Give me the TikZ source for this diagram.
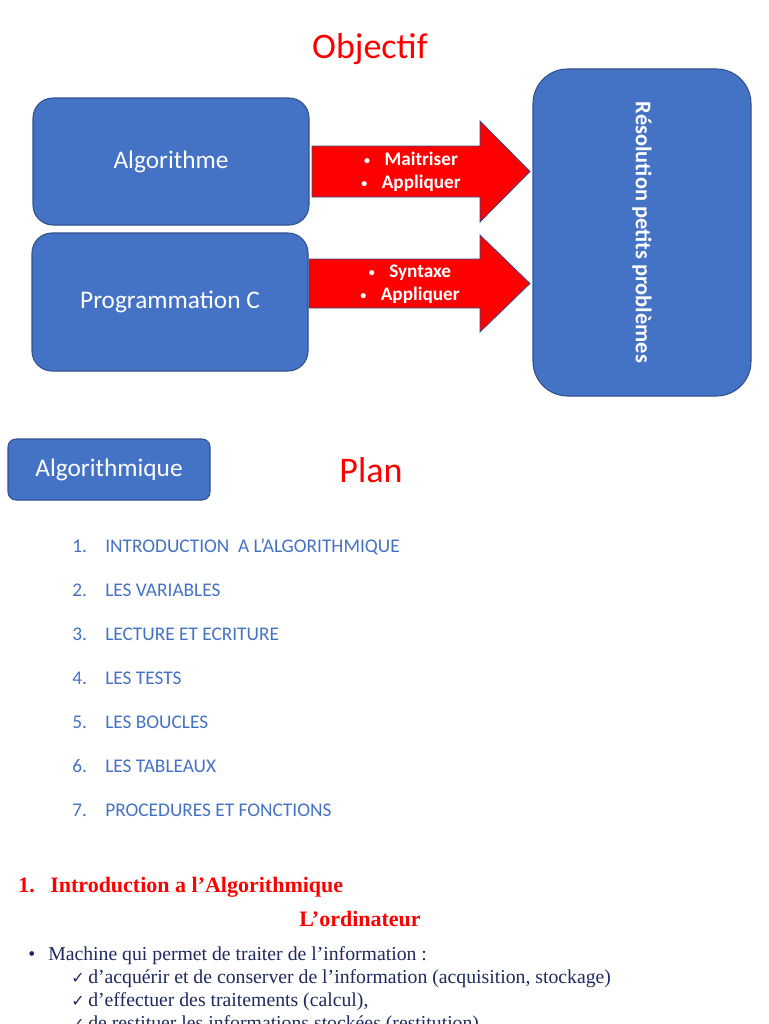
\documentclass[tikz,border=0pt]{standalone}
\usepackage{fontspec}
\setmainfont{Carlito}
\newfontfamily\tnr{Liberation Serif}
\newfontfamily\dejavu{DejaVu Sans}
\definecolor{boxblue}{HTML}{4472C4}
\definecolor{boxedge}{HTML}{2F528F}
\definecolor{listblue}{HTML}{4472C4}
\definecolor{navy}{HTML}{1F2A60}
\definecolor{pured}{HTML}{FF0000}
\newcommand{\smbul}{\raisebox{0.05em}{\fontsize{9}{9}\selectfont•}\hspace{0.75em}}
\tikzset{
  bluebox/.style={draw=boxedge, line width=0.8pt, fill=boxblue, text=white, inner sep=0pt},
  redarrow/.style={draw=boxedge, line width=0.6pt, fill=pured},
  arrowtext/.style={text=white, align=center, font=\fontsize{14.4}{17.5}\selectfont\bfseries, inner sep=0pt},
  redtitle/.style={text=pured, font=\fontsize{27}{32}\selectfont, inner sep=0pt, anchor=base},
  listnum/.style={text=listblue, font=\fontsize{14.5}{17}\selectfont, inner sep=0pt, anchor=base west},
  serifred/.style={text=pured, font=\tnr\bfseries\fontsize{16.5}{20}\selectfont, inner sep=0pt, anchor=base west},
  serifnavy/.style={text=navy, font=\tnr\fontsize{14.8}{18}\selectfont, inner sep=0pt, anchor=base west},
  checkmk/.style={text=navy, font=\dejavu\fontsize{12}{14}\selectfont, inner sep=0pt, anchor=base west},
}
\begin{document}
\begin{tikzpicture}[x=0.75pt,y=-0.75pt]
\path[use as bounding box, fill=white] (0,0) rectangle (768,1024);
\clip (0,0) rectangle (768,1024);

% title
\node[redtitle] (objectif) at (370,59) {Objectif};

% left boxes
\node[bluebox, minimum width=276*0.75pt, minimum height=127*0.75pt, rounded corners=15pt]
  (algo) at (171,161.5) {\fontsize{19}{23}\selectfont Algorithme};
\node[bluebox, minimum width=276*0.75pt, minimum height=138*0.75pt, rounded corners=15pt]
  (prog) at (170,302) {\fontsize{19}{23}\selectfont Programmation C};

% right box
\node[bluebox, minimum width=218*0.75pt, minimum height=327*0.75pt, rounded corners=26pt]
  (res) at (642,232.5) {\rotatebox{-90}{\fontsize{16.8}{20}\selectfont\bfseries Résolution petits problèmes}};

% block arrows
\draw[redarrow] (312,146) -- (480,146) -- (480,121) -- (530,171.5) -- (480,222) -- (480,197) -- (312,197) -- cycle;
\node[arrowtext] (a1) at (411,172) {\smbul Maitriser\\\smbul Appliquer};
\draw[redarrow] (309,259) -- (480,259) -- (480,235) -- (530,283.5) -- (480,332) -- (480,308) -- (309,308) -- cycle;
\node[arrowtext] (a2) at (410,284) {\smbul Syntaxe\\\smbul Appliquer};

% plan
\node[bluebox, minimum width=202*0.75pt, minimum height=61*0.75pt, rounded corners=6pt]
  (algq) at (109,469.5) {\fontsize{19}{23}\selectfont Algorithmique};
\node[redtitle] (plan) at (371,482) {Plan};

\foreach \n/\t [count=\i] in {1/{INTRODUCTION\ \ A L’ALGORITHMIQUE},2/{LES VARIABLES},3/{LECTURE ET ECRITURE},4/{LES TESTS},5/{LES BOUCLES},6/{LES TABLEAUX},7/{PROCEDURES ET FONCTIONS}}{
  \node[listnum] (n\i) at (72,{552+44*(\i-1)}) {\n.};
  \node[listnum] (t\i) at (105,{552+44*(\i-1)}) {\t};
}

% bottom text
\node[serifred] (s1n) at (18,892) {1.};
\node[serifred] (s1) at (50,892) {Introduction a l’Algorithmique};
\node[serifred, anchor=base] (ordi) at (360,926) {L’ordinateur};
\node[serifnavy] (b0) at (28,960) {•};
\node[serifnavy] (l0) at (48,960) {Machine qui permet de traiter de l’information :};
\node[checkmk] (c1) at (71,983) {✓};
\node[serifnavy] (l1) at (88,983) {d’acquérir et de conserver de l’information (acquisition, stockage)};
\node[checkmk] (c2) at (71,1006) {✓};
\node[serifnavy] (l2) at (88,1006) {d’effectuer des traitements (calcul),};
\node[checkmk] (c3) at (71,1029) {✓};
\node[serifnavy] (l3) at (88,1029) {de restituer les informations stockées (restitution)};
\end{tikzpicture}
\end{document}
